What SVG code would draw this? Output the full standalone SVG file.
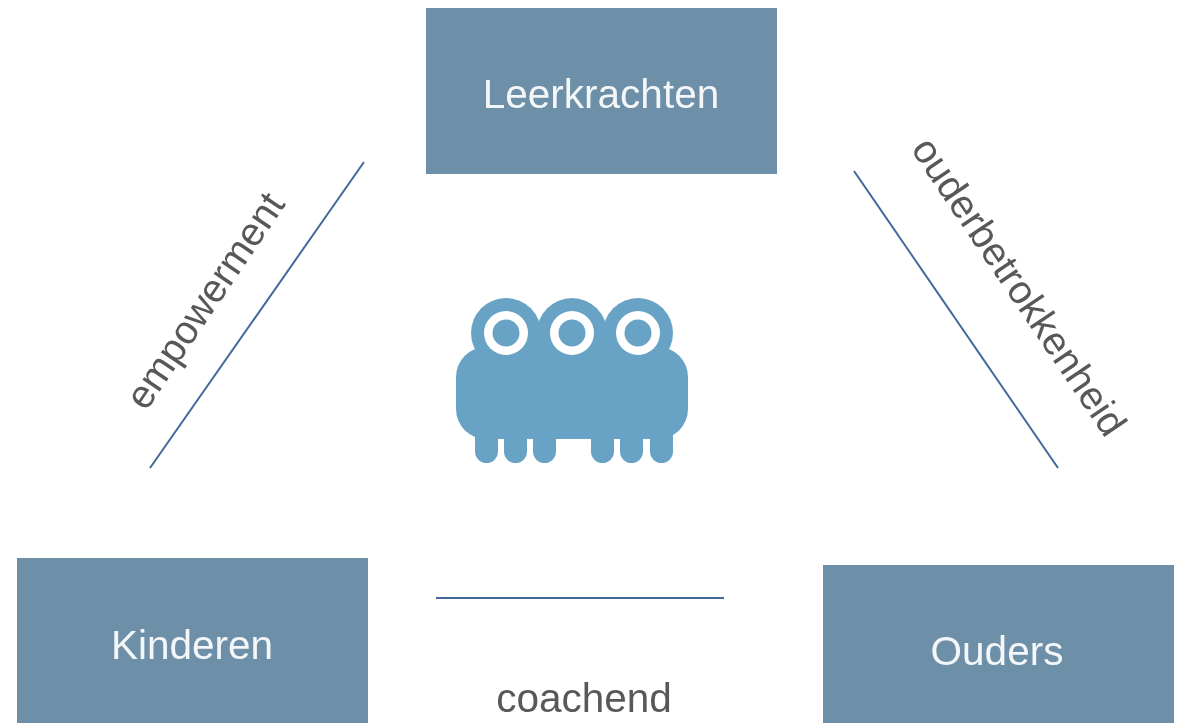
<svg xmlns="http://www.w3.org/2000/svg" width="1181" height="723" viewBox="0 0 1181 723">
<style>
.box{fill:#6d8fa7}
.lbl{font-family:"Liberation Sans",Arial,sans-serif;font-size:40.5px;fill:#f4f7f9;text-anchor:middle}
.edge{font-family:"Liberation Sans",Arial,sans-serif;font-size:40.5px;fill:#595959;text-anchor:middle}
.rot{font-size:39.6px}
.line{stroke:#44689a;stroke-width:2;fill:none}
.m{fill:#68a2c5}
.e{fill:#fff}
</style>
<defs><filter id="soft" x="0" y="0" width="100%" height="100%"><feGaussianBlur stdDeviation="0.6"/></filter></defs>
<rect width="1181" height="723" fill="#fff"/>
<g filter="url(#soft)">
<g id="connectors">
<line class="line" x1="364" y1="162" x2="150" y2="468"/>
<line class="line" x1="854" y1="171" x2="1058" y2="468"/>
<line class="line" x1="436" y1="598" x2="724" y2="598"/>
</g>
<g id="leerkrachten"><rect class="box" x="426" y="8" width="351" height="166"/><text class="lbl" x="601" y="108">Leerkrachten</text></g>
<g id="kinderen"><rect class="box" x="17" y="558" width="351" height="165"/><text class="lbl" x="192" y="659">Kinderen</text></g>
<g id="ouders"><rect class="box" x="823" y="565" width="351" height="158"/><text class="lbl" x="997" y="665">Ouders</text></g>
<g id="mascot">
<circle class="m" cx="506" cy="333" r="35"/><circle class="m" cx="572" cy="333" r="35"/><circle class="m" cx="638" cy="333" r="35"/>
<rect class="m" x="506" y="325" width="132" height="30"/>
<rect class="m" x="456" y="347" width="232" height="92" rx="30"/>
<rect class="m" x="475" y="425" width="23" height="38" rx="11.5"/><rect class="m" x="504" y="425" width="23" height="38" rx="11.5"/><rect class="m" x="533" y="425" width="23" height="38" rx="11.5"/>
<rect class="m" x="591" y="425" width="23" height="38" rx="11.5"/><rect class="m" x="620" y="425" width="23" height="38" rx="11.5"/><rect class="m" x="650" y="425" width="23" height="38" rx="11.5"/>
<circle class="e" cx="506" cy="333" r="22"/><circle class="m" cx="506" cy="333" r="13.5"/>
<circle class="e" cx="572" cy="333" r="22"/><circle class="m" cx="572" cy="333" r="13.5"/>
<circle class="e" cx="638" cy="333" r="22"/><circle class="m" cx="638" cy="333" r="13.5"/>
</g>
<text class="edge rot" transform="translate(216 308) rotate(-56)">empowerment</text>
<text class="edge rot" transform="translate(1008 294) rotate(56)">ouderbetrokkenheid</text>
<text class="edge" x="584" y="712">coachend</text>
</g>
</svg>
